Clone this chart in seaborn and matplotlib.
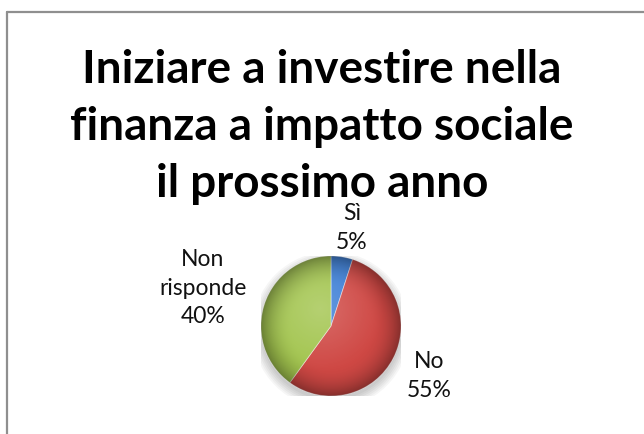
import numpy as np
import matplotlib
matplotlib.use("Agg")
import matplotlib.pyplot as plt
from matplotlib.lines import Line2D
from matplotlib.patches import Circle
import seaborn as sns

# Survey answers
categories = ["Sì", "No", "Non risponde"]
label_text = ["Sì", "No", "Non\nrisponde"]
shares = [5, 55, 40]
title_lines = ["Iniziare a investire nella", "finanza a impatto sociale", "il prossimo anno"]

sns.set_theme(style="white")
plt.rcParams["font.family"] = ["Lato", "DejaVu Sans"]

colors = sns.color_palette(["#3d7fd6", "#cf4844", "#a3c54f"])

W, H = 644, 434
fig = plt.figure(figsize=(W / 100, H / 100), dpi=100)
fig.patch.set_facecolor("white")


def fx(px):
    return px / W


def fy(py):
    return 1 - py / H


# Chart-area frame (only the top and left edges are visible)
fig.add_artist(Line2D([fx(7), fx(7)], [fy(12), 0], transform=fig.transFigure,
                      color="#8f8f8f", lw=1.6))
fig.add_artist(Line2D([fx(7), 1], [fy(12), fy(12)], transform=fig.transFigure,
                      color="#8f8f8f", lw=1.6))

# Title, one baseline per line
for i, line in enumerate(title_lines):
    fig.text(fx(322), fy(83 + 57 * i), line, ha="center", va="baseline",
             fontsize=33, fontweight="bold", color="black")

# Pie
cx, cy, r = 331, 326, 70
ax = fig.add_axes([fx(cx - r), fy(cy + r), 2 * r / W, 2 * r / H])
ax.set_facecolor("none")

# soft shadow under the pie
for k in range(6):
    ax.add_patch(Circle((0.0, -0.06), 1.0 + 0.025 * k, color="black",
                        alpha=0.035, zorder=0, lw=0))

wedges, _ = ax.pie(shares, colors=colors, startangle=90, counterclock=False,
                   wedgeprops=dict(linewidth=0.6, edgecolor=(1, 1, 1, 0.5)))
for w in wedges:
    w.set_zorder(2)

# radial shading to give the pie some depth
n = 300
g = np.linspace(-1, 1, n)
X, Y = np.meshgrid(g, g)
R = np.sqrt(X ** 2 + Y ** 2)
shade = np.zeros((n, n, 4))
dark = np.clip((R - 0.55) / 0.45, 0, 1) ** 2 * 0.35
light = np.clip(1 - np.sqrt((X + 0.15) ** 2 + (Y - 0.25) ** 2) / 0.9, 0, 1) * 0.2
shade[..., :3] = (light / (light + dark + 1e-9))[..., None]
shade[..., 3] = dark + light
im = ax.imshow(shade, extent=(-1, 1, -1, 1), origin="lower", zorder=3,
               interpolation="bilinear")
clip = Circle((0, 0), 1.0, transform=ax.transData)
im.set_clip_path(clip)

ax.set_xlim(-1, 1)
ax.set_ylim(-1, 1)
ax.set_aspect("auto")
ax.axis("off")

# Data labels placed outside each wedge
label_dist = [1.43, 1.58, 1.91]
label_turn = [-3.0, 0.0, 1.5]
for w, name, val, d, t in zip(wedges, label_text, shares, label_dist, label_turn):
    mid = np.deg2rad((w.theta1 + w.theta2) / 2 + t)
    ax.text(d * np.cos(mid), d * np.sin(mid), f"{name}\n{val}%",
            ha="center", va="center", fontsize=16.5, color="#111111",
            linespacing=1.45, clip_on=False)

fig.savefig("out.png", dpi=100, facecolor="white")
